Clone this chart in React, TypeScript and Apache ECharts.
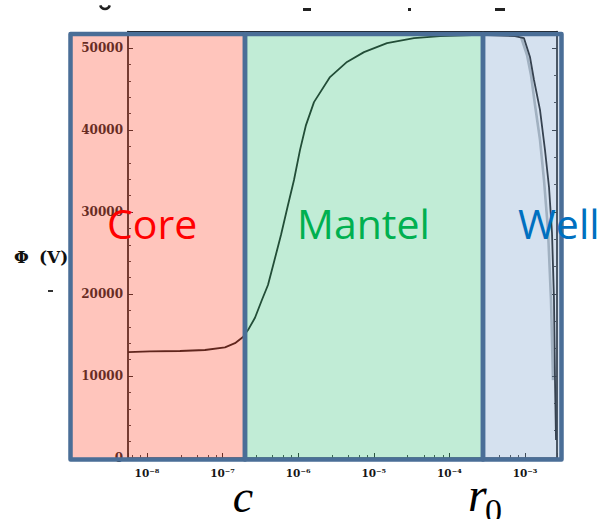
import React, { useEffect, useRef } from "react";
import * as echarts from "echarts";

// Radius r (m) and potential Φ (V) along the main trace
const radius = [
  5.61e-9, 1.095e-8, 2.73e-8, 5.85e-8, 1.076e-7, 1.459e-7, 1.862e-7, 2.168e-7,
  2.683e-7, 3.32e-7, 3.985e-7, 4.785e-7, 5.92e-7, 7.33e-7, 8.8e-7, 1.056e-6,
  1.268e-6, 1.618e-6, 2.634e-6, 4.42e-6, 7.42e-6, 1.495e-5, 3.4e-5, 7.51e-5,
  2.54e-4, 7.37e-4, 9.7e-4, 1.164e-3, 1.315e-3, 1.579e-3, 1.839e-3, 2.077e-3,
  2.276e-3, 2.418e-3, 2.493e-3, 2.571e-3,
];
const potential = [
  12900, 13000, 13050, 13170, 13500, 14000, 14750, 15600,
  17100, 19300, 21100, 23900, 27200, 30850, 33900, 37550,
  40600, 43400, 46450, 48300, 49500, 50600, 51200, 51450,
  51600, 51450, 51200, 48900, 46100, 42450, 37550, 33050,
  27450, 19300, 9500, 2200,
];
// Grey companion trace at the well edge
const radiusEdge = [8.86e-4, 1.063e-3, 1.2e-3, 1.356e-3, 1.579e-3, 1.783e-3, 2.014e-3, 2.207e-3, 2.347e-3];
const potentialEdge = [51340, 49150, 46700, 43050, 38800, 33900, 27800, 19300, 9500];

const xMin = 5.61e-9;
const xMax = 2.65e-3;
const yMax = 52000;
const yInterval = 10000;

const regionNames = ["Core", "Mantel", "Well"];
const regionTextColors = ["#ff0000", "#00b050", "#0070c0"];
const yAxisTitle = ["Φ", "(V)"];
const boundaryLabels = ["c", "r", "0"];

const SUP: Record<string, string> = {
  "-": "⁻", "0": "⁰", "1": "¹", "2": "²", "3": "³", "4": "⁴",
  "5": "⁵", "6": "⁶", "7": "⁷", "8": "⁸", "9": "⁹",
};

function logLabel(v: number): string {
  const e = Math.log10(v);
  const r = Math.round(e);
  if (Math.abs(e - r) > 1e-6) return "";
  return "10" + String(r).split("").map((c) => SUP[c] || c).join("");
}

export default function App() {
  const ref = useRef<HTMLDivElement>(null);
  useEffect(() => {
    document.body.style.margin = "0";
    const chart = echarts.init(ref.current!, null, { renderer: "svg" });
    const border = "#4a6e97";
    const tickFont = { fontFamily: "DejaVu Serif", fontWeight: "bold" as const, color: "#151515" };
    const option: any = {
      animation: false,
      backgroundColor: "#ffffff",
      grid: {
        left: 128, top: 31.6, width: 429, height: 426.4,
        show: true, borderColor: "#1a1a1a", borderWidth: 1.2, backgroundColor: "transparent",
      },
      xAxis: {
        type: "log",
        logBase: 10,
        min: xMin,
        max: xMax,
        axisLine: { lineStyle: { color: "#1a1a1a", width: 1.4 } },
        axisTick: { inside: true, length: 5, lineStyle: { color: "#1a1a1a" } },
        minorTick: { show: true, splitNumber: 5, length: 3, lineStyle: { color: "#333" } },
        axisLabel: { ...tickFont, fontSize: 10.5, margin: 9, formatter: logLabel, showMinLabel: true, showMaxLabel: true },
        splitLine: { show: false },
        minorSplitLine: { show: false },
      },
      yAxis: [
        {
          type: "value", min: 0, max: yMax, interval: yInterval,
          axisLine: { show: true, lineStyle: { color: "#1a1a1a", width: 1.6 } },
          axisTick: { show: true, inside: true, length: 5, lineStyle: { color: "#1a1a1a" } },
          minorTick: { show: true, splitNumber: 5, length: 3, lineStyle: { color: "#333" } },
          axisLabel: {
            ...tickFont, fontSize: 12, margin: 5,
            formatter: (v: number) => (v % yInterval === 0 ? String(v) : ""),
          },
          splitLine: { show: false },
        },
        {
          type: "value", position: "right", min: 0, max: yMax, interval: yInterval,
          axisLine: { show: true, lineStyle: { color: "#1a1a1a", width: 1.6 } },
          axisTick: { show: true, inside: true, length: 5, lineStyle: { color: "#1a1a1a" } },
          minorTick: { show: true, splitNumber: 3, length: 3, lineStyle: { color: "#333" } },
          axisLabel: { show: false },
          splitLine: { show: false },
        },
      ],
      series: [
        {
          type: "line",
          data: radiusEdge.map((r, i) => [r, potentialEdge[i]]),
          showSymbol: false,
          lineStyle: { color: "rgba(80,90,100,0.45)", width: 2.6 },
          z: 1,
        },
        {
          type: "line",
          data: radius.map((r, i) => [r, potential[i]]),
          showSymbol: false,
          lineStyle: { color: "#0c0c0c", width: 1.8 },
          z: 2,
        },
      ],
      graphic: [
        {
          type: "rect", z: 100,
          shape: { x: 70.5, y: 34, width: 174.5, height: 425.5 },
          style: { fill: "rgba(255,89,63,0.35)", stroke: border, lineWidth: 4.5, lineJoin: "round" },
        },
        {
          type: "rect", z: 100,
          shape: { x: 245, y: 34, width: 238, height: 425.5 },
          style: { fill: "rgba(78,200,138,0.35)", stroke: border, lineWidth: 4.5, lineJoin: "round" },
        },
        {
          type: "rect", z: 100,
          shape: { x: 483, y: 34, width: 78.5, height: 425.5 },
          style: { fill: "rgba(135,170,209,0.35)", stroke: border, lineWidth: 4.5, lineJoin: "round" },
        },
        {
          type: "text", z: 110, x: 107, y: 223,
          style: { text: regionNames[0], fill: regionTextColors[0], font: '41px "Open Sans"', align: "left", verticalAlign: "middle" },
        },
        {
          type: "text", z: 110, x: 297, y: 223,
          style: { text: regionNames[1], fill: regionTextColors[1], font: '41px "Open Sans"', align: "left", verticalAlign: "middle" },
        },
        {
          type: "text", z: 110, x: 518, y: 223,
          style: { text: regionNames[2], fill: regionTextColors[2], font: '41px "Open Sans"', align: "left", verticalAlign: "middle" },
        },
        {
          type: "text", z: 110, x: 14, y: 257,
          style: { text: yAxisTitle[0], fill: "#111", font: 'bold 17px "DejaVu Serif"', align: "left", verticalAlign: "middle" },
        },
        {
          type: "text", z: 110, x: 39, y: 257,
          style: { text: yAxisTitle[1], fill: "#111", font: 'bold 17px "DejaVu Serif"', align: "left", verticalAlign: "middle" },
        },
        {
          type: "text", z: 110, x: 243, y: 496,
          style: { text: boundaryLabels[0], fill: "#000", font: 'italic 46px "Liberation Serif"', align: "center", verticalAlign: "middle" },
        },
        {
          type: "text", z: 110, x: 468, y: 494,
          style: { text: boundaryLabels[1], fill: "#000", font: 'italic 48px "Liberation Serif"', align: "left", verticalAlign: "middle" },
        },
        {
          type: "text", z: 110, x: 485, y: 510,
          style: { text: boundaryLabels[2], fill: "#000", font: '34px "Liberation Serif"', align: "left", verticalAlign: "middle" },
        },
        { type: "rect", z: 110, shape: { x: 48, y: 290, width: 5, height: 2 }, style: { fill: "#333" } },
        { type: "rect", z: 110, shape: { x: 303, y: 8, width: 8, height: 3 }, style: { fill: "#222" } },
        { type: "rect", z: 110, shape: { x: 408, y: 8, width: 3, height: 3 }, style: { fill: "#222" } },
        { type: "rect", z: 110, shape: { x: 495, y: 8, width: 10, height: 3 }, style: { fill: "#222" } },
        {
          type: "arc", z: 110,
          shape: { cx: 105, cy: 4, r: 5, startAngle: 0.3, endAngle: Math.PI - 0.3 },
          style: { stroke: "#222", lineWidth: 2.5, fill: "none" },
        },
      ],
    };
    chart.setOption(option);
    return () => chart.dispose();
  }, []);
  return <div ref={ref} style={{ width: 597, height: 519 }} />;
}
